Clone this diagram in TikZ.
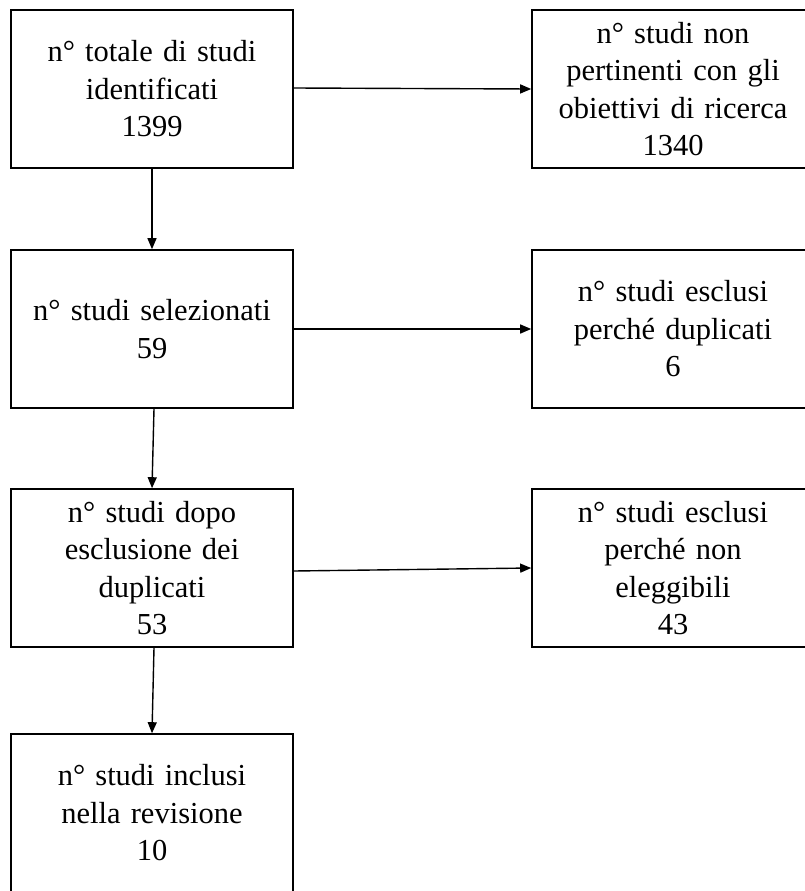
\documentclass[tikz,border=0pt]{standalone}
\usepackage{fontspec}
\setmainfont{Liberation Serif}
\usetikzlibrary{arrows.meta}
\begin{document}
\begin{tikzpicture}[x=1pt,y=-1pt,
  box/.style={draw, line width=1.6pt, minimum width=282pt, minimum height=158pt,
    align=center, inner sep=0pt, font=\fontsize{30.5}{37.5}\selectfont, text width=275pt},
  arr/.style={line width=1.4pt, -{Triangle[length=11pt,width=9pt]}}]
\useasboundingbox (0,0) rectangle (805,891);
\node[box] (b1) at (152,89) {n° totale di studi\\identificati\\1399};
\node[box] (bA) at (673,89) {n° studi non\\pertinenti con gli\\obiettivi di ricerca\\1340};
\node[box] (b2) at (152,329) {n° studi selezionati\\59};
\node[box] (bB) at (673,329) {n° studi esclusi\\perché duplicati\\6};
\node[box] (b3) at (152,568) {n° studi dopo\\esclusione dei\\duplicati\\53};
\node[box] (bC) at (673,568) {n° studi esclusi\\perché non\\eleggibili\\43};
\node[box] (b4) at (152,813) {n° studi inclusi\\nella revisione\\10};
\draw[arr] (b1.south) -- (b2.north);
\draw[arr] ([xshift=2pt]b2.south) -- (b3.north);
\draw[arr] ([xshift=2pt]b3.south) -- (b4.north);
\draw[arr] ([yshift=1pt]b1.east) -- (bA.west);
\draw[arr] (b2.east) -- (bB.west);
\draw[arr] ([yshift=-3pt]b3.east) -- (bC.west);
\end{tikzpicture}
\end{document}
